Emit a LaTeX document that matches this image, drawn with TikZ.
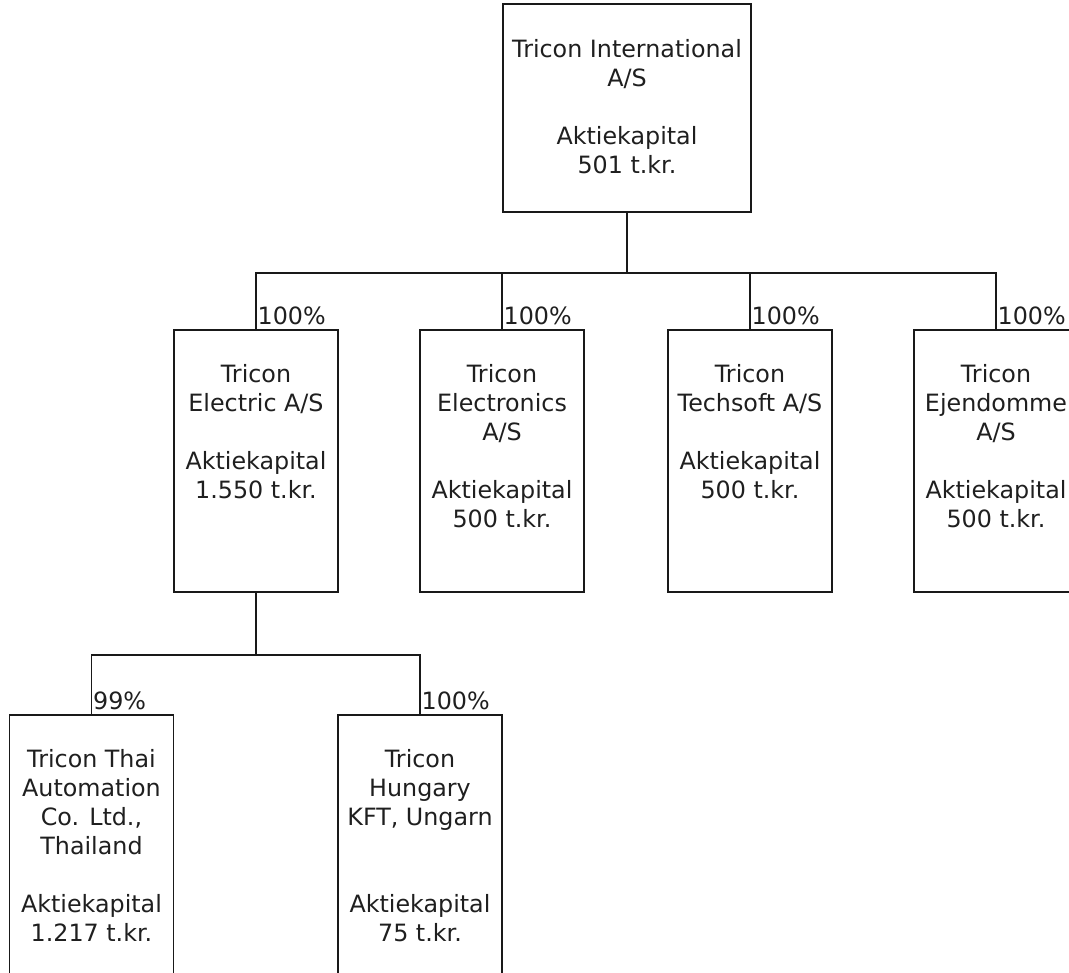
\documentclass[tikz,border=0pt]{standalone}
\usepackage{fontspec}
\setmainfont{DejaVu Sans}
\usetikzlibrary{calc}
\begin{document}
\begin{tikzpicture}[x=1pt,y=1pt,
  box/.style={draw=black!90, line width=1.6pt, minimum width=164pt, minimum height=262pt, inner sep=0pt},
  txt/.style={font=\fontsize{23.8}{29}\selectfont, align=center, inner sep=0pt, anchor=north, text=black!88},
  pct/.style={font=\fontsize{23.8}{29}\selectfont, inner sep=0pt, anchor=base west, text=black!88},
  conn/.style={draw=black!90, line width=1.6pt}]
\useasboundingbox (0,0) rectangle (1069,-973);
\clip (0,0) rectangle (1069,-973);
% boxes
\node[box, minimum width=248pt, minimum height=208pt] (int) at (627,-108) {};
\node[box] (ele) at (256,-461) {};
\node[box] (elx) at (502,-461) {};
\node[box] (tec) at (750,-461) {};
\node[box] (ejd) at (996,-461) {};
\node[box] (thai) at (91.5,-846) {};
\node[box] (hun) at (420,-846) {};
% texts
\node[txt] (intT) at ($(int.north)+(0,-36)$) {Tricon International\\A/S\\[29pt]Aktiekapital\\501 t.kr.};
\node[txt] (eleT) at ($(ele.north)+(0,-35.5)$) {Tricon\\Electric A/S\\[29pt]Aktiekapital\\1.550 t.kr.};
\node[txt] (elxT) at ($(elx.north)+(0,-35.5)$) {Tricon\\Electronics\\A/S\\[29pt]Aktiekapital\\500 t.kr.};
\node[txt] (tecT) at ($(tec.north)+(0,-35.5)$) {Tricon\\Techsoft A/S\\[29pt]Aktiekapital\\500 t.kr.};
\node[txt] (ejdT) at ($(ejd.north)+(0,-35.5)$) {Tricon\\Ejendomme\\A/S\\[29pt]Aktiekapital\\500 t.kr.};
\node[txt] (thaiT) at ($(thai.north)+(0,-35)$) {Tricon Thai\\Automation\\Co. Ltd.,\\Thailand\\[29pt]Aktiekapital\\1.217 t.kr.};
\node[txt] (hunT) at ($(hun.north)+(0,-35)$) {Tricon\\Hungary\\KFT, Ungarn\\[58pt]Aktiekapital\\75 t.kr.};
% connectors level 1
\coordinate (bus1) at ($(int.south)+(0,-60)$);
\draw[conn] (int.south) -- (bus1);
\draw[conn] (ele.north) |- (bus1) -| (ejd.north);
\draw[conn] (elx.north) -- (elx.north |- bus1);
\draw[conn] (tec.north) -- (tec.north |- bus1);
% connectors level 2
\coordinate (bus2) at ($(ele.south)+(0,-62)$);
\draw[conn] (ele.south) -- (bus2);
\draw[conn] (thai.north) |- (bus2) -| (hun.north);
% percentages
\node[pct] (pEle) at ($(ele.north)+(1.5,4.5)$) {100\%};
\node[pct] (pElx) at ($(elx.north)+(1.5,4.5)$) {100\%};
\node[pct] (pTec) at ($(tec.north)+(1.5,4.5)$) {100\%};
\node[pct] (pEjd) at ($(ejd.north)+(1.5,4.5)$) {100\%};
\node[pct] (pThai) at ($(thai.north)+(1.5,4.5)$) {99\%};
\node[pct] (pHun) at ($(hun.north)+(1.5,4.5)$) {100\%};
\end{tikzpicture}
\end{document}
